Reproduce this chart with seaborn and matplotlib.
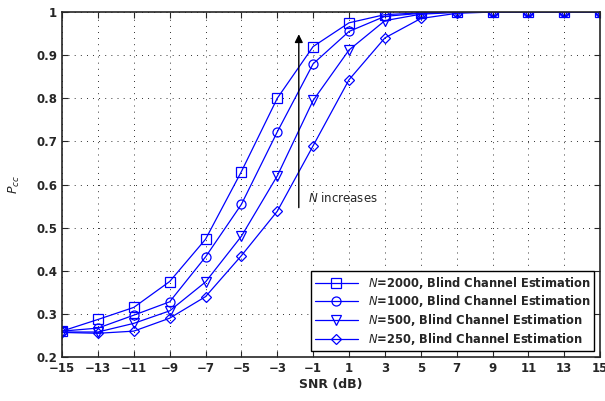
import numpy as np
import pandas as pd
import matplotlib
matplotlib.use("Agg")
import matplotlib.pyplot as plt
import seaborn as sns

# SNR axis (dB)
snr = [-15, -13, -11, -9, -7, -5, -3, -1, 1, 3, 5, 7, 9, 11, 13, 15]

# P_cc for each sample size
pcc_2000 = [0.260, 0.287, 0.315, 0.375, 0.473, 0.630, 0.800, 0.920, 0.975, 0.994, 0.998, 1.0, 1.0, 1.0, 1.0, 1.0]
pcc_1000 = [0.260, 0.267, 0.297, 0.328, 0.432, 0.554, 0.722, 0.880, 0.955, 0.990, 0.997, 1.0, 1.0, 1.0, 1.0, 1.0]
pcc_500 = [0.258, 0.258, 0.278, 0.307, 0.374, 0.480, 0.620, 0.795, 0.912, 0.980, 0.995, 0.999, 1.0, 1.0, 1.0, 1.0]
pcc_250 = [0.257, 0.255, 0.260, 0.290, 0.340, 0.435, 0.538, 0.690, 0.843, 0.940, 0.985, 0.997, 1.0, 1.0, 1.0, 1.0]

labels = ["$N$=2000, Blind Channel Estimation",
          "$N$=1000, Blind Channel Estimation",
          "$N$=500, Blind Channel Estimation",
          "$N$=250, Blind Channel Estimation"]
markers = ["s", "o", "v", "D"]

sns.set_style("ticks")
plt.rcParams["font.family"] = ["DejaVu Sans"]
plt.rcParams["mathtext.fontset"] = "dejavusans"

fig = plt.figure(figsize=(6.05, 4.01), dpi=100)
ax = fig.add_axes([0.1025, 0.1097, 0.8895, 0.8603])

series = [pcc_2000, pcc_1000, pcc_500, pcc_250]
for vals, lab, mk in zip(series, labels, markers):
    df = pd.DataFrame({"snr": snr, "pcc": vals})
    ms = 5.2 if mk == "D" else 6.5
    sns.lineplot(data=df, x="snr", y="pcc", ax=ax, color="blue", lw=0.9,
                 marker=mk, markersize=ms, markerfacecolor="none",
                 markeredgecolor="blue", markeredgewidth=0.9, label=lab)

ax.set_xlim(-15, 15)
ax.set_ylim(0.2, 1.0)
ax.set_xticks(snr)
ax.set_xticklabels([str(v).replace("-", "\u2212") for v in snr])
ax.set_yticks(np.arange(0.2, 1.01, 0.1))
ax.set_yticklabels(["0.2", "0.3", "0.4", "0.5", "0.6", "0.7", "0.8", "0.9", "1"])
ax.tick_params(direction="in", length=4, labelsize=8.5, top=True, right=True)
for t in ax.get_xticklabels() + ax.get_yticklabels():
    t.set_fontweight("bold")
ax.grid(True, linestyle=(0, (0.8, 5.5)), color="black", lw=0.7)
for s in ax.spines.values():
    s.set_linewidth(1.2)

ax.set_xlabel("SNR (dB)", fontsize=9, fontweight="bold", labelpad=2)
ax.set_ylabel("$P_{cc}$", fontsize=9, labelpad=10)

# arrow and annotation
ax.annotate("", xy=(-1.8, 0.955), xytext=(-1.8, 0.54),
            arrowprops=dict(arrowstyle="-|>", color="black", lw=1.0, mutation_scale=12))
ax.text(-1.3, 0.569, "$N$ increases", fontsize=8.5, va="center", ha="left")

leg = ax.legend(loc="lower right", fontsize=8.3, frameon=True, fancybox=False,
                edgecolor="black", framealpha=1, handlelength=3.8,
                borderaxespad=0.5, labelspacing=0.25, borderpad=0.35)
leg.get_frame().set_linewidth(1.0)
for t in leg.get_texts():
    t.set_fontweight("bold")

fig.savefig("out.png", dpi=100)
